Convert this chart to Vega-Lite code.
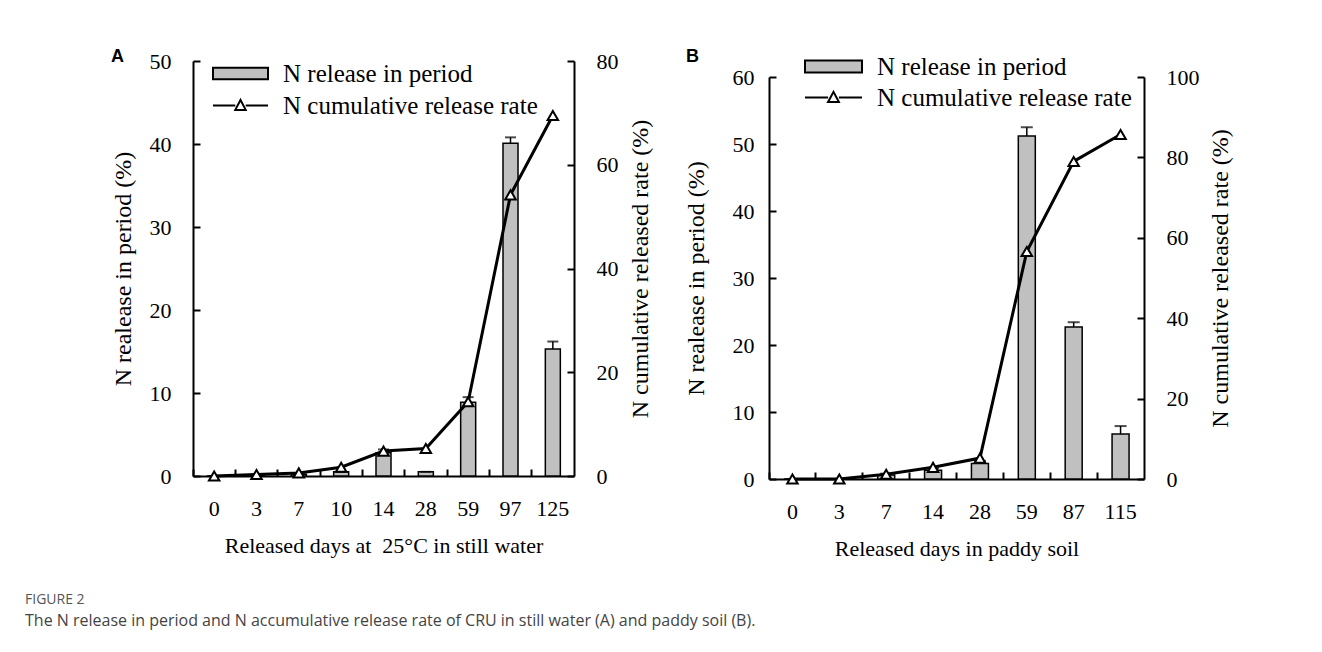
{
  "$schema": "https://vega.github.io/schema/vega-lite/v6.json",
  "background": "white",
  "padding": {"left": 25, "top": 37, "right": 10, "bottom": 5},
  "datasets": {
    "stillWater": [
      {"day": "0", "period": 0, "high": 0, "cum": 0},
      {"day": "3", "period": 0.1, "high": 0.1, "cum": 0.3},
      {"day": "7", "period": 0.2, "high": 0.2, "cum": 0.6},
      {"day": "10", "period": 0.5, "high": 0.5, "cum": 1.7},
      {"day": "14", "period": 2.8, "high": 3.2, "cum": 4.8},
      {"day": "28", "period": 0.5, "high": 0.5, "cum": 5.3},
      {"day": "59", "period": 8.9, "high": 9.5, "cum": 14.3},
      {"day": "97", "period": 40.1, "high": 40.8, "cum": 54.2},
      {"day": "125", "period": 15.3, "high": 16.2, "cum": 69.5}
    ],
    "paddySoil": [
      {"day": "0", "period": 0, "high": 0, "cum": 0},
      {"day": "3", "period": 0, "high": 0, "cum": 0},
      {"day": "7", "period": 0.6, "high": 0.8, "cum": 1.2},
      {"day": "14", "period": 1.3, "high": 1.6, "cum": 2.9},
      {"day": "28", "period": 2.3, "high": 2.7, "cum": 5.2},
      {"day": "59", "period": 51.2, "high": 52.5, "cum": 56.6},
      {"day": "87", "period": 22.7, "high": 23.4, "cum": 79.0},
      {"day": "115", "period": 6.7, "high": 7.9, "cum": 85.7}
    ]
  },
  "title": {
    "text": "FIGURE 2",
    "subtitle": "The N release in period and N accumulative release rate of CRU in still water (A) and paddy soil (B).",
    "orient": "bottom",
    "anchor": "start",
    "frame": "bounds",
    "dx": -86,
    "offset": 34,
    "font": "Open Sans",
    "fontSize": 14,
    "fontWeight": "normal",
    "color": "#555555",
    "subtitleFont": "Open Sans",
    "subtitleFontSize": 16,
    "subtitleColor": "#444444",
    "subtitlePadding": 6
  },
  "bounds": "flush",
  "spacing": 195,
  "hconcat": [
    {
      "width": 381,
      "height": 415,
      "title": {"text": "A", "anchor": "start", "frame": "group", "dx": -82, "dy": 21, "offset": 0, "font": "Liberation Sans", "fontWeight": "bold", "fontSize": 18, "color": "black"},
      "data": {"name": "stillWater"},
      "encoding": {
        "x": {
          "field": "day", "type": "ordinal", "sort": null,
          "scale": {"paddingInner": 0, "paddingOuter": 0},
          "axis": {"title": "Released days at \u00a025°C in still water", "labelAngle": 0, "bandPosition": 0, "titlePadding": 16}
        }
      },
      "layer": [
        {
          "encoding": {
            "y": {"field": "period", "type": "quantitative", "scale": {"domain": [0, 50]},
                  "axis": {"title": "N realease in period (%)", "orient": "left", "values": [0, 10, 20, 30, 40, 50], "titleFontSize": 24, "titlePadding": 14}}
          },
          "layer": [
            {
              "mark": {"type": "bar", "size": 15, "stroke": "black", "strokeWidth": 1.5},
              "encoding": {
                "fill": {"datum": "N release in period", "scale": {"range": ["#c0c0c0"]},
                         "legend": {"orient": "none", "legendX": 19, "legendY": -16, "symbolSize": 3025,
                                    "symbolType": "M-1,-0.21H1V0.21H-1Z"}}
              }
            },
            {"mark": {"type": "rule", "color": "black", "strokeWidth": 1.5}, "encoding": {"y2": {"field": "high"}}},
            {"mark": {"type": "tick", "color": "black", "thickness": 2, "size": 11}, "encoding": {"y": {"field": "high", "type": "quantitative"}}}
          ]
        },
        {
          "encoding": {
            "y": {"field": "cum", "type": "quantitative", "scale": {"domain": [0, 80]},
                  "axis": {"title": "N cumulative released rate (%)", "orient": "right", "values": [0, 20, 40, 60, 80], "titleAngle": 270, "titleBaseline": "top", "titleFontSize": 24, "titlePadding": 10}}
          },
          "layer": [
            {
              "mark": {"type": "line", "strokeWidth": 3},
              "encoding": {
                "stroke": {"datum": "N cumulative release rate", "scale": {"range": ["black"]},
                           "legend": {"orient": "none", "legendX": 19, "legendY": 16, "symbolSize": 3025,
                                      "symbolType": "M-1,0H-0.19M0.19,0H1M-0.19,0.16L0,-0.2L0.19,0.16Z",
                                      "encode": {"symbols": {"update": {"fill": {"value": "white"}}}}}}
              }
            },
            {"mark": {"type": "point", "shape": "triangle-up", "filled": true, "fill": "white", "stroke": "black", "strokeWidth": 2, "size": 110, "opacity": 1}}
          ]
        }
      ],
      "resolve": {"scale": {"y": "independent", "fill": "independent", "stroke": "independent"}}
    },
    {
      "bounds": "flush",
      "spacing": 15,
      "vconcat": [
        {
          "width": 375,
          "height": 1,
          "data": {"values": [{}]},
          "mark": {"type": "point", "opacity": 0},
          "encoding": {}
        },
        {
          "width": 375,
          "height": 402,
          "title": {"text": "B", "anchor": "start", "frame": "group", "dx": -83, "dy": 29, "offset": 0, "font": "Liberation Sans", "fontWeight": "bold", "fontSize": 18, "color": "black"},
          "data": {"name": "paddySoil"},
          "encoding": {
            "x": {
              "field": "day", "type": "ordinal", "sort": null,
              "scale": {"paddingInner": 0, "paddingOuter": 0},
              "axis": {"title": "Released days in paddy soil", "labelAngle": 0, "bandPosition": 0, "titlePadding": 16}
            }
          },
          "layer": [
            {
              "encoding": {
                "y": {"field": "period", "type": "quantitative", "scale": {"domain": [0, 60]},
                      "axis": {"title": "N realease in period (%)", "orient": "left", "values": [0, 10, 20, 30, 40, 50, 60], "labelPadding": 22, "titleFontSize": 24, "titlePadding": 24}}
              },
              "layer": [
                {
                  "mark": {"type": "bar", "size": 17, "stroke": "black", "strokeWidth": 1.5},
                  "encoding": {
                    "fill": {"datum": "N release in period", "scale": {"range": ["#c0c0c0"]},
                             "legend": {"orient": "none", "legendX": 35, "legendY": -40, "symbolSize": 3249,
                                        "symbolType": "M-1,-0.21H1V0.21H-1Z"}}
                  }
                },
                {"mark": {"type": "rule", "color": "black", "strokeWidth": 1.5}, "encoding": {"y2": {"field": "high"}}},
                {"mark": {"type": "tick", "color": "black", "thickness": 2, "size": 12}, "encoding": {"y": {"field": "high", "type": "quantitative"}}}
              ]
            },
            {
              "encoding": {
                "y": {"field": "cum", "type": "quantitative", "scale": {"domain": [0, 100]},
                      "axis": {"title": "N cumulative released rate (%)", "orient": "right", "values": [0, 20, 40, 60, 80, 100], "titleAngle": 270, "titleBaseline": "top", "titleFontSize": 24, "titlePadding": 9}}
              },
              "layer": [
                {
                  "mark": {"type": "line", "strokeWidth": 3},
                  "encoding": {
                    "stroke": {"datum": "N cumulative release rate", "scale": {"range": ["black"]},
                               "legend": {"orient": "none", "legendX": 35, "legendY": -9, "symbolSize": 3249,
                                          "symbolType": "M-1,0H-0.19M0.19,0H1M-0.19,0.16L0,-0.2L0.19,0.16Z",
                                          "encode": {"symbols": {"update": {"fill": {"value": "white"}}}}}}
                  }
                },
                {"mark": {"type": "point", "shape": "triangle-up", "filled": true, "fill": "white", "stroke": "black", "strokeWidth": 2, "size": 110, "opacity": 1}}
              ]
            }
          ],
          "resolve": {"scale": {"y": "independent", "fill": "independent", "stroke": "independent"}}
        }
      ]
    }
  ],
  "config": {
    "view": {"stroke": null},
    "axis": {
      "grid": false,
      "domainColor": "black",
      "domainWidth": 2,
      "tickColor": "black",
      "tickWidth": 2,
      "tickSize": -7,
      "labelPadding": 29,
      "labelFont": "Liberation Serif",
      "labelFontSize": 22,
      "labelColor": "black",
      "titleFont": "Liberation Serif",
      "titleFontSize": 22,
      "titleFontWeight": "normal",
      "titleColor": "black"
    },
    "legend": {
      "title": null,
      "labelFont": "Liberation Serif",
      "labelFontSize": 25,
      "labelColor": "black",
      "labelLimit": 0,
      "labelOffset": 14,
      "symbolStrokeColor": "black",
      "symbolStrokeWidth": 2,
      "padding": 0
    }
  }
}
